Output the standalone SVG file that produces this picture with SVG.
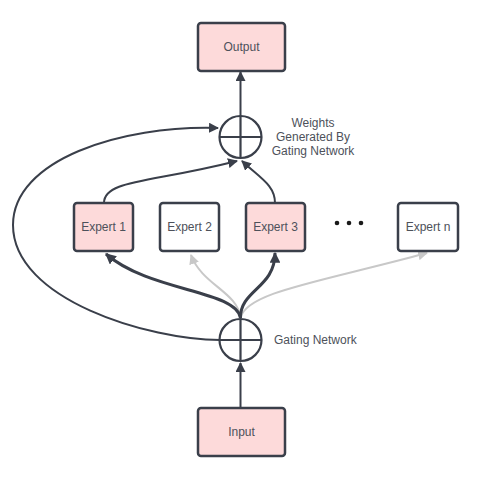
<svg xmlns="http://www.w3.org/2000/svg" width="490" height="499" viewBox="0 0 490 499">
<defs>
<style>
.box{stroke:#3a3f4a;stroke-width:2.5}
.pink{fill:#fddada}
.white{fill:#ffffff}
.lbl{font-family:"Liberation Sans",Arial,sans-serif;font-size:12px;fill:#4d515a;text-anchor:middle}
.note{font-family:"Liberation Sans",Arial,sans-serif;font-size:12px;fill:#4d515a}
.dark{fill:none;stroke:#3a3f4a;stroke-width:2}
.thick{fill:none;stroke:#3a3f4a;stroke-width:3}
.light{fill:none;stroke:#c8c8c8;stroke-width:2}
.sum{fill:#fff;stroke:#3a3f4a;stroke-width:2.2}
</style>
<marker id="ad" viewBox="0 0 10 10" refX="9" refY="5" markerWidth="5" markerHeight="5" orient="auto" markerUnits="strokeWidth"><path d="M0,0 L10,5 L0,10 Z" fill="#3a3f4a"/></marker>
<marker id="at" viewBox="0 0 10 10" refX="9" refY="5" markerWidth="3.6" markerHeight="3.6" orient="auto" markerUnits="strokeWidth"><path d="M0,0 L10,5 L0,10 Z" fill="#3a3f4a"/></marker>
<marker id="al" viewBox="0 0 10 10" refX="9" refY="5" markerWidth="5" markerHeight="5" orient="auto" markerUnits="strokeWidth"><path d="M0,0 L10,5 L0,10 Z" fill="#c8c8c8"/></marker>
</defs>
<rect width="490" height="499" fill="#ffffff"/>
<g id="connectors">
<path class="dark" d="M240.5,408 L240.5,363" marker-end="url(#ad)"/>
<path class="dark" d="M240.5,116 L240.5,72" marker-end="url(#ad)"/>
<path class="light" d="M240.5,318 C238,292 202,285 191,255" marker-end="url(#al)"/>
<path class="light" d="M240.5,318 C246,292 320,282 427,253" marker-end="url(#al)"/>
<path class="thick" d="M240.5,318 C236,290 150,292 106,254" marker-end="url(#at)"/>
<path class="thick" d="M240.5,318 C240,290 275,288 275,253" marker-end="url(#at)"/>
<path class="dark" d="M220,340 C150,340 13,300 13,225 C13,160 120,125 218,128" marker-end="url(#ad)"/>
<path class="dark" d="M104,203 C104,180 150,183 237,161" marker-end="url(#ad)"/>
<path class="dark" d="M275,203 C275,185 260,178 242,161" marker-end="url(#ad)"/>
</g>
<g id="output"><rect class="box pink" x="198" y="23" width="87" height="48" rx="3"/><text class="lbl" x="241.5" y="51">Output</text></g>
<g id="weights-sum"><circle class="sum" cx="240.5" cy="137" r="21"/><path d="M240.5,116 V158 M219.5,137 H261.5" stroke="#3a3f4a" stroke-width="2.2"/></g>
<g id="weights-label"><text class="note" text-anchor="middle"><tspan x="313" y="127">Weights</tspan><tspan x="313" y="141">Generated By</tspan><tspan x="313" y="155">Gating Network</tspan></text></g>
<g id="expert1"><rect class="box pink" x="74" y="203" width="59" height="48" rx="3"/><text class="lbl" x="103.5" y="231">Expert 1</text></g>
<g id="expert2"><rect class="box white" x="160" y="203" width="59" height="48" rx="3"/><text class="lbl" x="189.5" y="231">Expert 2</text></g>
<g id="expert3"><rect class="box pink" x="246" y="203" width="59" height="48" rx="3"/><text class="lbl" x="275.5" y="231">Expert 3</text></g>
<g id="dots"><circle cx="337" cy="223" r="2.3" fill="#1a1a1a"/><circle cx="349" cy="223" r="2.3" fill="#1a1a1a"/><circle cx="361" cy="223" r="2.3" fill="#1a1a1a"/></g>
<g id="expertn"><rect class="box white" x="398" y="203" width="60" height="48" rx="3"/><text class="lbl" x="428" y="231">Expert n</text></g>
<g id="gating-sum"><circle class="sum" cx="240.5" cy="340" r="21"/><path d="M240.5,319 V361 M219.5,340 H261.5" stroke="#3a3f4a" stroke-width="2.2"/></g>
<g id="gating-label"><text class="note" x="274" y="344">Gating Network</text></g>
<g id="input"><rect class="box pink" x="198" y="408" width="87" height="48" rx="3"/><text class="lbl" x="241.5" y="436">Input</text></g>
</svg>
